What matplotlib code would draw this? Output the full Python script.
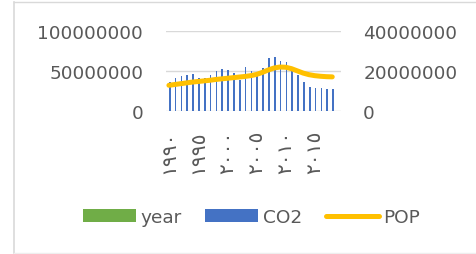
import matplotlib
matplotlib.use("Agg")
import matplotlib.pyplot as plt
from matplotlib.patches import Patch
from matplotlib.lines import Line2D
import numpy as np

# ---- data ----
years = list(range(1990, 2020))
year_vals = [float(y) for y in years]
co2 = [36.4e6, 41.5e6, 43.2e6, 45.3e6, 45.8e6, 41.1e6, 41.5e6, 45.3e6, 49.6e6, 52.1e6,
       51.3e6, 47.9e6, 38.1e6, 54.2e6, 50.0e6, 48.5e6, 53.4e6, 66.5e6, 67.4e6, 62.3e6,
       61.4e6, 52.1e6, 44.5e6, 36.0e6, 30.1e6, 29.2e6, 28.8e6, 28.0e6, 28.0e6, np.nan]
pop = [12.8e6, 13.2e6, 13.6e6, 14.0e6, 14.4e6, 14.7e6, 15.0e6, 15.3e6, 15.7e6, 16.0e6,
       16.3e6, 16.6e6, 16.9e6, 17.2e6, 17.6e6, 18.2e6, 19.2e6, 20.4e6, 21.4e6, 21.9e6,
       21.8e6, 21.1e6, 20.0e6, 18.9e6, 18.1e6, 17.6e6, 17.3e6, 17.1e6, 17.0e6, np.nan]
tick_idx = [0, 5, 10, 15, 20, 25]
tick_labels = ['١٩٩٠', '١٩٩٥', '٢٠٠٠', '٢٠٠٥', '٢٠١٠', '٢٠١٥']
left_ticks = [0, 50000000, 100000000]
right_ticks = [0, 20000000, 40000000]

GREEN = '#70AD47'
BLUE = '#4472C4'
YELLOW = '#FFC000'
TXT = '#595959'
GRID = '#D9D9D9'
FS = 13.3

plt.rcParams['font.family'] = ['DejaVu Sans']

W, H = 476, 255
fig = plt.figure(figsize=(W / 100, H / 100), dpi=100)

# chart border (left, top, bottom edges visible)
bx0, by_top, by_bot = 13.5 / W, 1 - 2.5 / H, 1.0 / H
fig.add_artist(Line2D([bx0, bx0], [by_bot, by_top], transform=fig.transFigure, color=GRID, lw=1.2))
fig.add_artist(Line2D([bx0, 1.0], [by_top, by_top], transform=fig.transFigure, color=GRID, lw=1.0))
fig.add_artist(Line2D([bx0, 1.0], [by_bot, by_bot], transform=fig.transFigure, color='#EEEEEE', lw=1.0))

ax = fig.add_axes([166 / W, (H - 112) / H, 175 / W, 80.3 / H])
x = np.arange(len(years))
bw = 0.29
ax.bar(x - bw / 2, year_vals, width=bw, color=GREEN, zorder=2)
ax.bar(x + bw / 2, co2, width=bw, color=BLUE, zorder=2)
ax.set_xlim(-0.5, len(years) - 0.5)
ax.set_ylim(0, 100000000)
ax.set_yticks(left_ticks)
ax.set_yticklabels([str(v) for v in left_ticks])
ax.grid(axis='y', color=GRID, lw=1.0, zorder=0)
ax.set_axisbelow(True)
for s in ax.spines.values():
    s.set_visible(False)
ax.tick_params(axis='y', length=0, pad=16.5, labelsize=FS, labelcolor=TXT)
ax.set_xticks(tick_idx)
ax.set_xticklabels(tick_labels, rotation=90, fontsize=14.5, color=TXT, va='top', ha='center')
ax.tick_params(axis='x', length=0, pad=13.5)

ax2 = ax.twinx()
ax2.plot(x, pop, color=YELLOW, lw=3.6, solid_capstyle='round', solid_joinstyle='round', zorder=3)
ax2.set_ylim(0, 40000000)
ax2.set_yticks(right_ticks)
ax2.set_yticklabels([str(v) for v in right_ticks])
for s in ax2.spines.values():
    s.set_visible(False)
ax2.tick_params(axis='y', length=0, pad=16, labelsize=FS, labelcolor=TXT)

handles = [Patch(facecolor=GREEN, edgecolor='none'),
           Patch(facecolor=BLUE, edgecolor='none'),
           Line2D([0], [0], color=YELLOW, lw=3.6, solid_capstyle='round')]
leg = fig.legend(handles, ['year', 'CO2', 'POP'], loc='center',
                 bbox_to_anchor=(251.5 / W, 37 / H), ncol=3, frameon=False,
                 fontsize=FS, handlelength=2.85, handleheight=0.7, handletextpad=0.25,
                 columnspacing=1.3, borderaxespad=0, borderpad=0)
for t in leg.get_texts():
    t.set_color(TXT)

fig.savefig('out.png', dpi=100)
